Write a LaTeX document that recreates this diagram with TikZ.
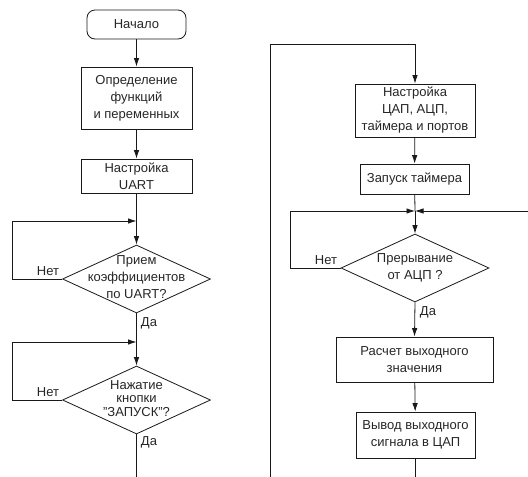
\documentclass[tikz,border=0pt]{standalone}
\usepackage{fontspec}
\setmainfont{Liberation Sans}
\usetikzlibrary{shapes.geometric,arrows.meta}
\begin{document}
\begin{tikzpicture}[x=1pt,y=-1pt,
  every node/.style={font=\fontsize{13}{17}\selectfont, text=black!85},
  line/.style={draw=black!90, line width=0.8pt},
  arr/.style={line, -{Latex[length=8.5pt,width=5.5pt]}},
  procbox/.style={draw=black!90, line width=0.8pt, rectangle, inner sep=0pt, align=center},
  termbox/.style={procbox, rounded corners=8pt},
  decis/.style={draw=black!90, line width=0.8pt, diamond, inner sep=0pt, minimum width=148pt, minimum height=68pt},
  dtext/.style={align=center, inner sep=0pt},
  lbl/.style={inner sep=0pt}]
\useasboundingbox (0,0) rectangle (528,477);
% left column
\node[termbox, minimum width=99pt, minimum height=29pt] (start) at (136.5,24.5) {Начало};
\node[procbox, minimum width=111pt, minimum height=62pt] (b1) at (136.5,98) {Определение\\функций\\и переменных};
\node[procbox, minimum width=111pt, minimum height=34pt] (b2) at (136.5,176) {Настройка\\UART};
\coordinate (j1) at (136.5,221);
\node[decis] (d1) at (136.5,279) {};
\node[dtext] (d1t) at (136.5,277) {Прием\\коэффициентов\\по UART?};
\coordinate (l1) at (12,279);
\node[lbl] (n1) at (48,271) {Нет};
\node[lbl] (y1) at (149,323) {Да};
\coordinate (j2) at (136.5,342);
\node[decis] (d2) at (136.5,400) {};
\node[dtext, font=\fontsize{13}{13.5}\selectfont] (d2t) at (136.5,398.5) {Нажатие\\кнопки\\"ЗАПУСК"?};
\coordinate (l2) at (12,400);
\node[lbl] (n2) at (48,392) {Нет};
\node[lbl] (y2) at (149,442) {Да};
\coordinate (e1) at (136.5,477);
\draw[arr] (start) -- (b1);
\draw[arr] (b1) -- (b2);
\draw[line] (b2) -- (j1);
\draw[arr] (j1) -- (d1.north);
\draw[arr] (d1.west) -- (l1) |- (j1);
\draw[line] (d1.south) -- (j2);
\draw[arr] (j2) -- (d2.north);
\draw[arr] (d2.west) -- (l2) |- (j2);
\draw[line] (d2.south) -- (e1);
% right column
\coordinate (c1) at (270,477);
\coordinate (c2) at (270,44);
\node[procbox, minimum width=120pt, minimum height=53pt] (b3) at (415,110.5) {Настройка\\ЦАП, АЦП,\\таймера и портов};
\node[procbox, minimum width=109pt, minimum height=30pt] (b4) at (414.5,179) {Запуск таймера};
\coordinate (j3) at (415,211);
\coordinate (r1) at (528,211);
\node[decis] (d3) at (415,268) {};
\node[dtext] (d3t) at (415,268) {Прерывание\\от АЦП ?};
\coordinate (l3) at (290,268);
\node[lbl] (n3) at (326,260) {Нет};
\node[lbl] (y3) at (428,312) {Да};
\node[procbox, minimum width=157pt, minimum height=45pt] (b5) at (414.5,359.5) {Расчет выходного\\значения};
\node[procbox, minimum width=119pt, minimum height=46pt] (b6) at (415.5,435) {Вывод выходного\\сигнала в ЦАП};
\coordinate (e2) at (415.5,477);
\draw[arr] (c1) -- (c2) -| (b3.north);
\draw[arr] (b3) -- (b4);
\draw[line] (b4) -- (j3);
\draw[arr] (r1) -- (j3);
\draw[arr] (d3.west) -- (l3) |- (j3);
\draw[arr] (j3) -- (d3.north);
\draw[arr] (d3.south) -- (b5.north);
\draw[arr] (b5) -- (b6);
\draw[line] (b6) -- (e2);
\end{tikzpicture}
\end{document}
